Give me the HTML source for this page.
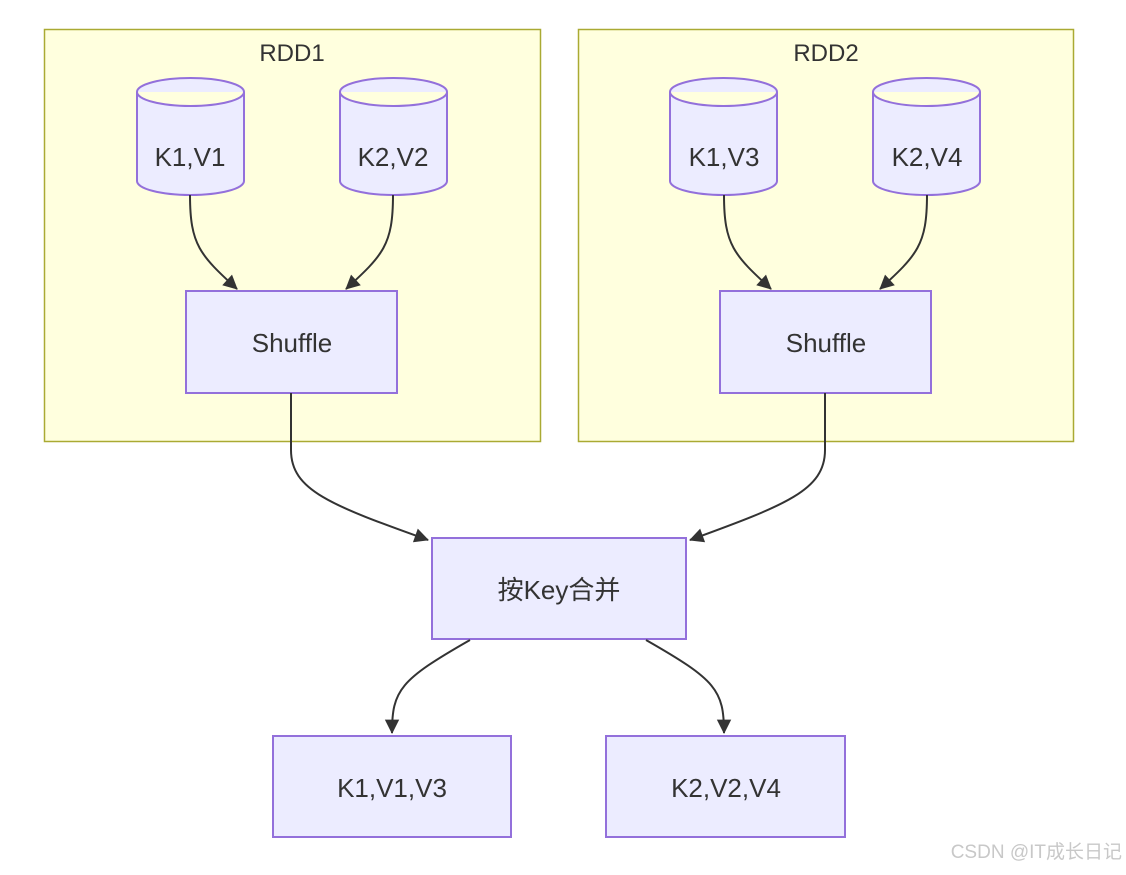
<!DOCTYPE html>
<html><head><meta charset="utf-8"><style>
html,body{margin:0;padding:0;background:#fff;}
svg text{font-family:"Liberation Sans","Noto Sans CJK SC",sans-serif;fill:#333;}
</style></head><body>
<svg width="1126" height="870" viewBox="0 0 1126 870" xmlns="http://www.w3.org/2000/svg">
<defs><marker id="a" viewBox="0 0 10 10" refX="9" refY="5" markerWidth="9" markerHeight="9" markerUnits="userSpaceOnUse" orient="auto" style="overflow:visible"><path d="M0,0L10,5L0,10z" fill="#333" transform="scale(1.6) translate(-3.7,-1.9)"/></marker></defs>
<rect x="44.5" y="29.5" width="496" height="412" fill="#ffffde" stroke="#aaaa33" stroke-width="1.5"/>
<rect x="578.5" y="29.5" width="495" height="412" fill="#ffffde" stroke="#aaaa33" stroke-width="1.5"/>
<text x="292" y="61" font-size="24" text-anchor="middle">RDD1</text>
<text x="826" y="61" font-size="24" text-anchor="middle">RDD2</text>
<g fill="#ececff" stroke="#9370db" stroke-width="2">
<path d="M137,92 a53.5,14 0 0 1 107,0 v89 a53.5,14 0 0 1 -107,0z M137,92 a53.5,14 0 0 0 107,0"/>
<path d="M340,92 a53.5,14 0 0 1 107,0 v89 a53.5,14 0 0 1 -107,0z M340,92 a53.5,14 0 0 0 107,0"/>
<path d="M670,92 a53.5,14 0 0 1 107,0 v89 a53.5,14 0 0 1 -107,0z M670,92 a53.5,14 0 0 0 107,0"/>
<path d="M873,92 a53.5,14 0 0 1 107,0 v89 a53.5,14 0 0 1 -107,0z M873,92 a53.5,14 0 0 0 107,0"/>
<rect x="186" y="291" width="211" height="102"/>
<rect x="720" y="291" width="211" height="102"/>
<rect x="432" y="538" width="254" height="101"/>
<rect x="273" y="736" width="238" height="101"/>
<rect x="606" y="736" width="239" height="101"/>
</g>
<g font-size="26" text-anchor="middle">
<text x="190" y="166">K1,V1</text>
<text x="393" y="166">K2,V2</text>
<text x="724" y="166">K1,V3</text>
<text x="927" y="166">K2,V4</text>
<text x="292" y="352">Shuffle</text>
<text x="826" y="352">Shuffle</text>
<text x="559" y="599">按Key合并</text>
<text x="392" y="797">K1,V1,V3</text>
<text x="726" y="797">K2,V2,V4</text>
</g>
<g fill="none" stroke="#333" stroke-width="2" marker-end="url(#a)">
<path d="M190,195 C190,245 200,255 237,289"/>
<path d="M393,195 C393,245 383,255 346,289"/>
<path d="M724,195 C724,245 734,255 771,289"/>
<path d="M927,195 C927,245 917,255 880,289"/>
<path d="M291,393 V450 C291,490 330,505 428,540"/>
<path d="M825,393 V450 C825,490 786,505 690,540"/>
<path d="M470,640 C400,680 392,690 392,733"/>
<path d="M646,640 C716,680 724,690 724,733"/>
</g>
<text x="1122" y="858" font-size="19" text-anchor="end" style="fill:#c8c8c8">CSDN @IT成长日记</text>
</svg>
</body></html>
